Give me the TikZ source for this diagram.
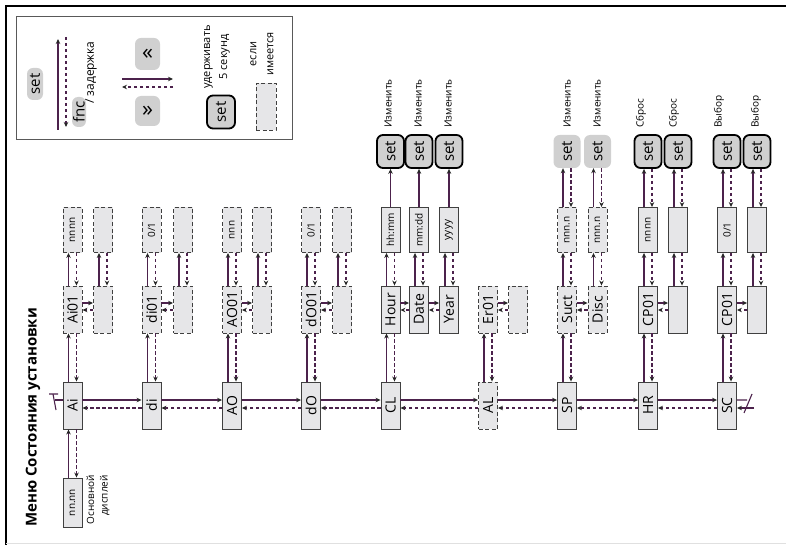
\documentclass[tikz,border=0pt]{standalone}
\usepackage{fontspec}
\setmainfont{Open Sans}
\usepackage{graphicx}
\usetikzlibrary{arrows.meta,positioning}

\definecolor{wire}{RGB}{76,34,76}
\definecolor{boxfill}{RGB}{230,230,232}
\definecolor{boxline}{RGB}{64,64,64}
\definecolor{keyfill}{RGB}{208,208,208}

\newcommand{\rt}[1]{\rotatebox{90}{#1}}

\tikzset{
  box/.style={draw=boxline, fill=boxfill, line width=0.9pt, minimum width=19pt,
    minimum height=47pt, inner sep=0pt, font=\fontsize{14}{14}\selectfont},
  optbox/.style={box, dash pattern=on 4pt off 2.5pt},
  valbox/.style={box, minimum height=45pt, font=\fontsize{10}{10}\selectfont},
  optval/.style={valbox, dash pattern=on 4pt off 2.5pt},
  key/.style={fill=keyfill, rounded corners=6pt, minimum width=27pt, minimum height=33pt,
    inner sep=0pt, font=\fontsize{15}{15}\selectfont},
  holdkey/.style={key, draw=black, line width=1.8pt},
  fwd/.style={draw=wire, line width=1.1pt, -{Stealth[length=5pt,width=4.5pt,black!85]}},
  bwd/.style={fwd, dash pattern=on 3.5pt off 2.5pt},
  note/.style={rotate=90, inner sep=0pt, font=\fontsize{10}{17}\selectfont}
}

\begin{document}
\begin{tikzpicture}[x=1pt,y=-1pt]
  \useasboundingbox (0,0) rectangle (786,545);
  \draw[line width=2.2pt] (6,545) -- (6,6) -- (786,6);
  \draw[black!12] (6,543) -- (786,543);

  % legend
  \draw[black!65, line width=0.9pt] (16,16) rectangle (292,139);
  \node[key, minimum width=16pt, minimum height=32pt] (kset) at (35,84) {\rt{set}};
  \node[key, minimum width=14pt, minimum height=30pt] (kfnc) at (79,112) {\rt{fnc}};
  \node[note, anchor=west, font=\fontsize{12}{12}\selectfont] (tdelay) at (91,104) {/ задержка};
  \coordinate (kupA) at (58,130);   \coordinate (kupB) at (58,39);
  \coordinate (kdnA) at (66,37);    \coordinate (kdnB) at (66,127);
  \draw[fwd] (kupA) -- (kupB);
  \draw[bwd] (kdnA) -- (kdnB);
  \node[key, minimum width=25pt, minimum height=32pt, font=\fontsize{22}{22}\selectfont] (kprev) at (147.5,54) {«};
  \node[key, minimum width=25pt, minimum height=30pt, font=\fontsize{22}{22}\selectfont] (knext) at (147.5,111) {»};
  \coordinate (kfwA) at (122,79);   \coordinate (kfwB) at (173,79);
  \coordinate (kbwA) at (173,87);   \coordinate (kbwB) at (122,87);
  \draw[fwd] (kfwA) -- (kfwB);
  \draw[bwd] (kbwA) -- (kbwB);
  \node[holdkey, minimum width=28pt] (khold) at (221,112) {\rt{set}};
  \node[note, align=center, font=\fontsize{11}{17}\selectfont] (thold) at (217,57) {удерживать\\5 секунд};
  \node[optbox, minimum width=20pt] (kopt) at (266,107) {};
  \node[note, align=center, font=\fontsize{11}{17}\selectfont] (topt) at (262,54) {если\\имеется};

  % title
  \node[rotate=90, anchor=west, inner sep=0pt, font=\fontsize{15}{15}\bfseries] (title) at (33,527) {Меню Состояния установки};

  % main row
  \node[box] (ai) at (72.5,405.5) {\rt{Ai}};
  \node[box] (di) at (151.5,405.5) {\rt{di}};
  \node[box] (ao) at (232,405.5) {\rt{AO}};
  \node[box] (dO) at (311,405.5) {\rt{dO}};
  \node[box] (cl) at (390.5,405.5) {\rt{CL}};
  \node[optbox] (al) at (488,405.5) {\rt{AL}};
  \node[box] (sp) at (567,405.5) {\rt{SP}};
  \node[box] (hr) at (648,405.5) {\rt{HR}};
  \node[box] (sc) at (727,405.5) {\rt{SC}};

  % main display
  \node[box, minimum height=49pt, font=\fontsize{10}{10}\selectfont] (disp) at (72.5,502.5) {\rt{nn.nn}};
  \node[note, align=right, anchor=east, font=\fontsize{10}{13.5}\selectfont] (tdisp) at (98,475) {Основной\\дисплей};

  % parameters
  \node[optbox] (ai1) at (72.5,309.5) {\rt{Ai01}};
  \node[optbox] (ai1b) at (103,309.5) {};
  \node[optbox] (di1) at (151.5,309.5) {\rt{di01}};
  \node[optbox] (di1b) at (183,309.5) {};
  \node[optbox] (ao1) at (232,309.5) {\rt{AO01}};
  \node[optbox] (ao1b) at (262,309.5) {};
  \node[optbox] (dO1) at (311,309.5) {\rt{dO01}};
  \node[optbox] (dO1b) at (342,309.5) {};
  \node[box] (hour) at (390.5,309.5) {\rt{Hour}};
  \node[box] (date) at (419,309.5) {\rt{Date}};
  \node[box] (year) at (449,309.5) {\rt{Year}};
  \node[optbox] (er1) at (488,309.5) {\rt{Er01}};
  \node[optbox] (er1b) at (518,309.5) {};
  \node[optbox] (suct) at (567,309.5) {\rt{Suct}};
  \node[optbox] (disc) at (597.5,309.5) {\rt{Disc}};
  \node[box] (hrcp) at (648,309.5) {\rt{CP01}};
  \node[box] (hrcpb) at (678,309.5) {};
  \node[box] (sccp) at (727,309.5) {\rt{CP01}};
  \node[box] (sccpb) at (757,309.5) {};

  % values
  \node[optval] (ai2) at (72.5,230) {\rt{nnnn}};
  \node[optval] (ai2b) at (103,230) {};
  \node[optval] (di2) at (151.5,230) {\rt{0/1}};
  \node[optval] (di2b) at (183,230) {};
  \node[optval] (ao2) at (232,230) {\rt{nnn}};
  \node[optval] (ao2b) at (262,230) {};
  \node[optval] (dO2) at (311,230) {\rt{0/1}};
  \node[optval] (dO2b) at (342,230) {};
  \node[valbox] (hhmm) at (390.5,230) {\rt{hh:mm}};
  \node[valbox] (mmdd) at (419,230) {\rt{mm:dd}};
  \node[valbox] (yyyy) at (449,230) {\rt{yyyy}};
  \node[optval] (spv1) at (567,230) {\rt{nnn.n}};
  \node[optval] (spv2) at (597.5,230) {\rt{nnn.n}};
  \node[valbox] (hrv1) at (648,230) {\rt{nnnn}};
  \node[valbox] (hrv2) at (678,230) {};
  \node[valbox] (scv1) at (727,230) {\rt{0/1}};
  \node[valbox] (scv2) at (757,230) {};

  % keys
  \node[holdkey] (clk1) at (390.5,151.5) {\rt{set}};
  \node[holdkey] (clk2) at (419,151.5) {\rt{set}};
  \node[holdkey] (clk3) at (449,151.5) {\rt{set}};
  \node[key] (spk1) at (567,151.5) {\rt{set}};
  \node[key] (spk2) at (597.5,151.5) {\rt{set}};
  \node[holdkey] (hrk1) at (648,151.5) {\rt{set}};
  \node[holdkey] (hrk2) at (678,151.5) {\rt{set}};
  \node[holdkey] (sck1) at (727,151.5) {\rt{set}};
  \node[holdkey] (sck2) at (757,151.5) {\rt{set}};

  \node[note, anchor=west] (tcl1) at (388,128) {Изменить};
  \node[note, anchor=west] (tcl2) at (418,128) {Изменить};
  \node[note, anchor=west] (tcl3) at (448,128) {Изменить};
  \node[note, anchor=west] (tsp1) at (567,128) {Изменить};
  \node[note, anchor=west] (tsp2) at (597,128) {Изменить};
  \node[note, anchor=west] (thr1) at (641,128) {Сброс};
  \node[note, anchor=west] (thr2) at (674,128) {Сброс};
  \node[note, anchor=west] (tsc1) at (719,128) {Выбор};
  \node[note, anchor=west] (tsc2) at (756,128) {Выбор};

  % connectors
  \foreach \a/\b in {ai/di,di/ao,ao/dO,dO/cl,cl/al,al/sp,sp/hr,hr/sc} {
    \draw[fwd] ([yshift=5.5pt]\a.east) -- ([yshift=5.5pt]\b.west);
    \draw[bwd] ([yshift=-2.5pt]\b.west) -- ([yshift=-2.5pt]\a.east);
  }
  \foreach \a/\b in {ai1/ai1b,di1/di1b,ao1/ao1b,dO1/dO1b,hour/date,date/year,er1/er1b,
                     suct/disc,hrcp/hrcpb,sccp/sccpb} {
    \draw[fwd] ([yshift=6.5pt]\a.east) -- ([yshift=6.5pt]\b.west);
    \draw[bwd] ([yshift=-0.5pt]\b.west) -- ([yshift=-0.5pt]\a.east);
  }
  \foreach \a/\b in {disp/ai,ai/ai1,di/di1,ao/ao1,dO/dO1,cl/hour,al/er1,sp/suct,hr/hrcp,sc/sccp,
                     ai1/ai2,ai1b/ai2b,di1/di2,di1b/di2b,ao1/ao2,ao1b/ao2b,dO1/dO2,dO1b/dO2b,
                     hour/hhmm,date/mmdd,year/yyyy,suct/spv1,disc/spv2,hrcp/hrv1,hrcpb/hrv2,
                     sccp/scv1,sccpb/scv2,spv1/spk1,spv2/spk2,hrv1/hrk1,hrv2/hrk2,scv1/sck1,scv2/sck2} {
    \draw[fwd] ([xshift=-4pt]\a.north) -- ([xshift=-4pt]\b.south);
    \draw[bwd] ([xshift=4pt]\b.south) -- ([xshift=4pt]\a.north);
  }
  \foreach \a/\b in {hhmm/clk1,mmdd/clk2,yyyy/clk3}
    \draw[fwd] (\a) -- (\b);

  % wrap around
  \coordinate (wrapL) at (55,400);
  \coordinate (wrapR) at (747,400);
  \coordinate (wrapRd) at (754,408);
  \draw[wire, line width=1.1pt] (wrapL) -- ([yshift=5.5pt]ai.west);
  \draw[wire, line width=1.1pt] (49,394) -- (58,394) (53,394) -- (56,410);
  \draw[wire, line width=1.1pt] ([yshift=5.5pt]sc.east) -- (wrapR) (744,413) -- (752,394);
  \draw[fwd] (wrapRd) -- ([yshift=-2.5pt]sc.east);
\end{tikzpicture}
\end{document}
